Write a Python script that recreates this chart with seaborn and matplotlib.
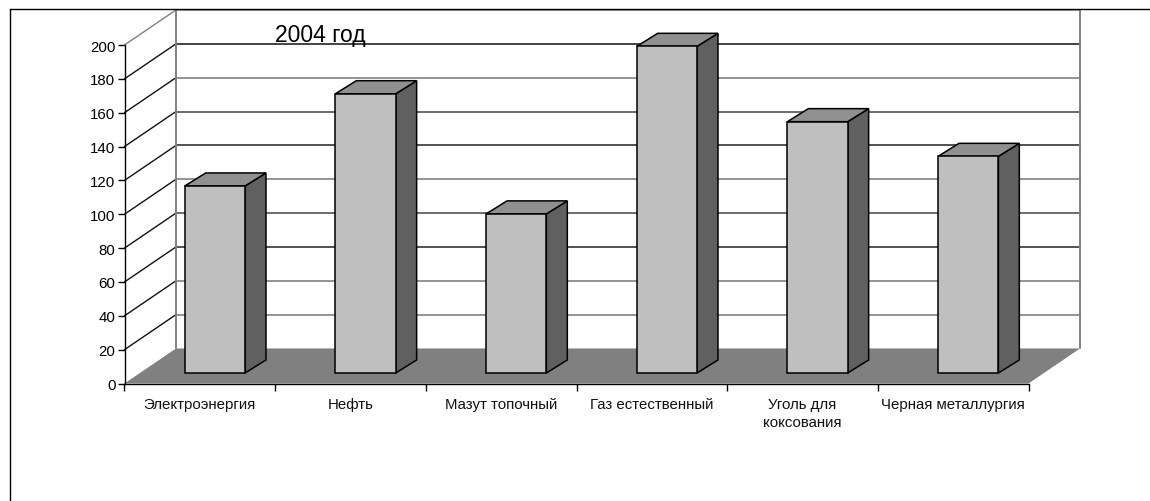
"""Bar chart with a drawn 3D look: 2004 values by sector (Excel-style chart)."""

import matplotlib
matplotlib.use("Agg")
import matplotlib.pyplot as plt
import pandas as pd
import seaborn as sns
from matplotlib.lines import Line2D
from matplotlib.patches import Polygon

# ============================================================================
# DATA
# ============================================================================

categories = ["Электроэнергия", "Нефть", "Мазут топочный", "Газ естественный",
              "Уголь для\nкоксования", "Черная металлургия"]
values = [110.5, 165, 94, 193, 148.5, 128]
y_ticks = list(range(0, 201, 20))
title = "2004 год"

# ============================================================================
# STYLE
# ============================================================================

WIDTH, HEIGHT = 1150, 502
FLOOR_DX, FLOOR_DY = 0.342, 20.7   # depth of the whole box, data units
BAR_SHIFT_X, BAR_SHIFT_Y = 0.10, 6.2   # bar front face sits inside the floor
BAR_DX, BAR_DY = 0.139, 7.7   # depth of one bar

FRONT = "#BFBFBF"
SIDE = "#606060"
TOP = "#909090"
FLOOR = "#808080"
WALL = "#808080"

# the scan renders the back wall lines unevenly
GRID_COLORS = {20: "#777777", 40: "#777777", 60: "#222222", 80: "#444444", 100: "#777777",
               120: "#222222", 140: "#444444", 160: "#777777", 180: "#111111", 200: WALL}


def main():
    sns.set_theme(style="white")
    plt.rcParams["font.family"] = ["Liberation Sans", "DejaVu Sans"]

    fig = plt.figure(figsize=(WIDTH / 100, HEIGHT / 100), dpi=100)
    ax = fig.add_axes([124.5 / WIDTH, (HEIGHT - 384.5) / HEIGHT,
                       904 / WIDTH, 338.5 / HEIGHT])

    df = pd.DataFrame({"category": categories, "value": values})
    sns.barplot(data=df, x="category", y="value", color=FRONT, saturation=1,
                width=0.40, edgecolor="black", linewidth=1.1, ax=ax, zorder=5)

    x0, x1 = -0.5, len(categories) - 0.5
    y0, y1 = y_ticks[0], y_ticks[-1]
    ax.set_xlim(x0, x1)
    ax.set_ylim(y0, y1)

    # floor and walls
    ax.add_patch(Polygon([(x0, y0), (x1, y0), (x1 + FLOOR_DX, y0 + FLOOR_DY),
                          (x0 + FLOOR_DX, y0 + FLOOR_DY)],
                         facecolor=FLOOR, edgecolor="none", zorder=1, clip_on=False))
    back_x0, back_x1 = x0 + FLOOR_DX, x1 + FLOOR_DX
    for tick in y_ticks[1:]:
        ax.plot([back_x0, back_x1], [tick + FLOOR_DY, tick + FLOOR_DY],
                color=GRID_COLORS[tick], lw=1.1, zorder=2, clip_on=False)
        ax.plot([x0, back_x0], [tick, tick + FLOOR_DY],
                color="#111111" if tick < y1 else WALL, lw=1.0, zorder=2, clip_on=False)
    wall_kw = dict(color=WALL, lw=1.4, zorder=3, clip_on=False)
    ax.plot([back_x0, back_x0], [y0 + FLOOR_DY, y1 + FLOOR_DY], **wall_kw)
    ax.plot([back_x1, back_x1], [y0 + FLOOR_DY, y1 + FLOOR_DY], **wall_kw)

    # bars: move the front face back and add side and top faces
    for patch in ax.patches:
        if not isinstance(patch, plt.Rectangle):
            continue
        patch.set_x(patch.get_x() + BAR_SHIFT_X)
        patch.set_y(patch.get_y() + BAR_SHIFT_Y)
        left, right = patch.get_x(), patch.get_x() + patch.get_width()
        low, high = patch.get_y(), patch.get_y() + patch.get_height()
        face_kw = dict(edgecolor="black", linewidth=1.1, zorder=4, clip_on=False)
        ax.add_patch(Polygon([(right, low), (right + BAR_DX, low + BAR_DY),
                              (right + BAR_DX, high + BAR_DY), (right, high)],
                             facecolor=SIDE, **face_kw))
        ax.add_patch(Polygon([(left, high), (right, high),
                              (right + BAR_DX, high + BAR_DY), (left + BAR_DX, high + BAR_DY)],
                             facecolor=TOP, **face_kw))

    # axes
    sns.despine(ax=ax, top=True, right=True)
    for side in ("left", "bottom"):
        ax.spines[side].set_color("black")
        ax.spines[side].set_linewidth(1.0)
        ax.spines[side].set_zorder(6)
    ax.set_xlabel("")
    ax.set_ylabel("")
    ax.set_yticks(y_ticks)
    ax.tick_params(axis="y", which="major", left=True, length=5, width=1.0,
                   pad=1.5, labelsize=10.8, colors="black")
    ax.set_xticks([i + 0.5 for i in range(-1, len(categories))])
    ax.set_xticklabels([])
    ax.set_xticks(range(len(categories)), categories, minor=True)
    ax.tick_params(axis="x", which="major", bottom=True, length=5, width=1.0, color="black")
    ax.tick_params(axis="x", which="minor", bottom=False, length=0, pad=10,
                   labelsize=10.8, labelcolor="#111111")
    for label in ax.get_xticklabels(minor=True):
        label.set_linespacing(1.35)

    ax.text(0.5, 202.6, title, fontsize=16.5, color="black", ha="left", va="baseline", zorder=7)

    # outer frame, only the top and left edges are inside the picture
    fig.add_artist(Line2D([10 / WIDTH, 10 / WIDTH], [0, (HEIGHT - 10) / HEIGHT], color="black", lw=1.0))
    fig.add_artist(Line2D([10 / WIDTH, 1], [(HEIGHT - 10) / HEIGHT] * 2, color="black", lw=1.0))

    fig.savefig("out.png", dpi=100)


if __name__ == "__main__":
    main()
